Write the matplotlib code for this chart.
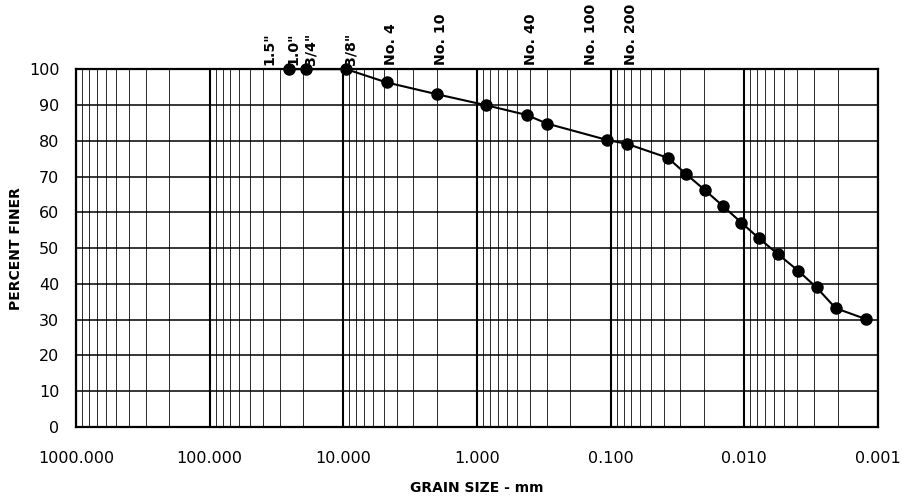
import matplotlib.pyplot as plt
import numpy as np
from matplotlib.ticker import FixedLocator, FuncFormatter, LogLocator, NullFormatter

plt.rcParams.update({'font.family': 'DejaVu Sans'})

# grain size distribution (sieve + hydrometer)
grain_mm = [25.4, 19.05, 9.525, 4.75, 2.0, 0.85, 0.425, 0.3, 0.106, 0.075,
            0.0372, 0.0271, 0.0197, 0.0144, 0.0105, 0.00775, 0.00559,
            0.00396, 0.00288, 0.00207, 0.00122]
pct_finer = [100, 100, 100, 96.3, 93.0, 89.9, 87.2, 84.8, 80.2, 79.1,
             75.2, 70.6, 66.2, 61.7, 57.1, 52.7, 48.3, 43.7, 39.0, 33.2, 30.1]

# sieve names along the top
sieve_names = ['1.5"', '1.0"', '3/4"', '3/8"', 'No. 4', 'No. 10', 'No. 40', 'No. 100', 'No. 200']
sieve_mm = [38.1, 25.4, 19.05, 9.525, 4.75, 2.0, 0.425, 0.15, 0.075]

xticks = [1000, 100, 10, 1, 0.1, 0.01, 0.001]
yticks = np.arange(0, 101, 10)

fig = plt.figure(figsize=(9.03, 5.04), dpi=100)
ax = fig.add_axes([0.0842, 0.1528, 0.888, 0.710])

ax.set_xscale('log')
ax.set_xlim(1000, 0.001)
ax.set_ylim(0, 100)

ax.xaxis.set_major_locator(FixedLocator(xticks))
ax.xaxis.set_major_formatter(FuncFormatter(lambda v, p: '%.3f' % v))
ax.xaxis.set_minor_locator(LogLocator(base=10, subs=np.arange(2, 10), numticks=50))
ax.xaxis.set_minor_formatter(NullFormatter())
ax.set_yticks(yticks)

ax.grid(which='major', axis='x', color='black', linewidth=1.5)
ax.grid(which='minor', axis='x', color='#2a2a2a', linewidth=0.7)
ax.grid(which='major', axis='y', color='black', linewidth=1.1)
ax.tick_params(which='both', length=0)
ax.tick_params(axis='x', pad=17, labelsize=11.5)
ax.tick_params(axis='y', pad=12, labelsize=11.5)
for s in ax.spines.values():
    s.set_linewidth(1.6)
ax.set_axisbelow(True)

ax.plot(grain_mm, pct_finer, '-o', color='black', lw=1.5, ms=8, clip_on=False, zorder=5)

for name, d in zip(sieve_names, sieve_mm):
    ax.annotate(name, xy=(d, 100), xytext=(3, 3), textcoords='offset points',
                rotation=90, ha='center', va='bottom', fontsize=10.2, fontweight='bold')

ax.set_xlabel('GRAIN SIZE - mm', fontsize=10, fontweight='bold', labelpad=11)
ax.set_ylabel('PERCENT FINER', fontsize=10, fontweight='bold')
ax.yaxis.set_label_coords(-0.066, 0.5)

fig.savefig('out.png', dpi=100)
plt.close()
